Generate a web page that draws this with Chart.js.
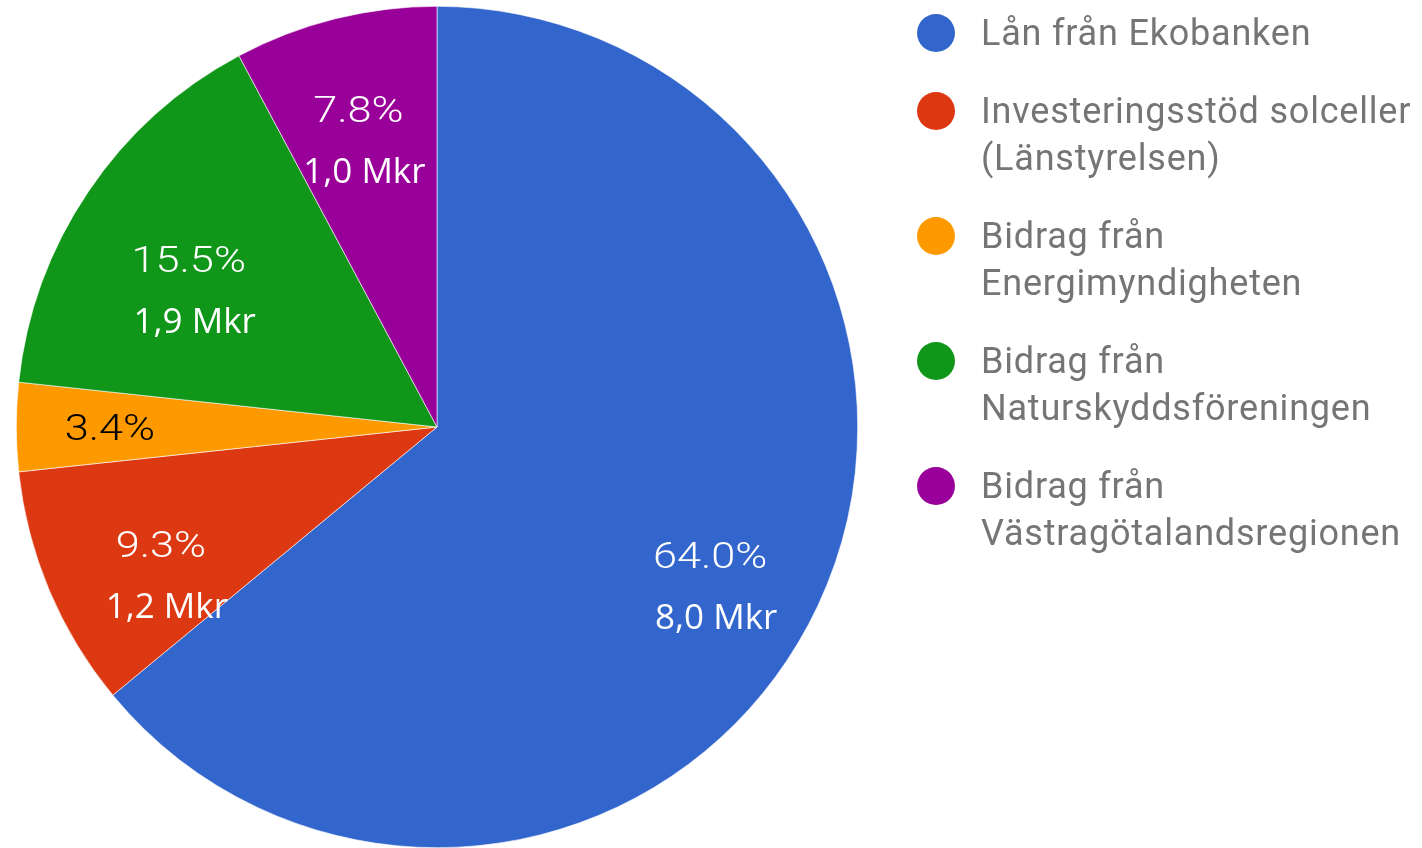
<!DOCTYPE html>
<html>
<head>
<meta charset="utf-8">
<style>
  html, body { margin: 0; padding: 0; background: #ffffff; }
  #wrap { width: 1422px; height: 848px; position: relative; }
  canvas { display: block; }
</style>
<script src="https://cdn.jsdelivr.net/npm/chart.js@4/dist/chart.umd.min.js"></script>
</head>
<body>
<div id="wrap"><canvas id="c" width="1422" height="848"></canvas></div>
<script>
// ---- data ----
const categories = [
  ["Lån från Ekobanken"],
  ["Investeringsstöd solceller", "(Länstyrelsen)"],
  ["Bidrag från", "Energimyndigheten"],
  ["Bidrag från", "Naturskyddsföreningen"],
  ["Bidrag från", "Västragötalandsregionen"]
];
const shares = [64.0, 9.3, 3.4, 15.5, 7.8];
const amountsMkr = [8.0, 1.2, null, 1.9, 1.0];
const colors = ["#3366cc", "#dc3912", "#ff9900", "#109618", "#990099"];
const labelTextColors = ["#ffffff", "#ffffff", "#000000", "#ffffff", "#ffffff"];

function drawStretched(ctx, text, cx, baseline, sx) {
  ctx.save();
  ctx.translate(cx, baseline);
  ctx.scale(sx, 1);
  ctx.textAlign = 'center';
  ctx.fillText(text, 0, 0);
  ctx.restore();
}

const sliceLabels = {
  id: 'sliceLabels',
  afterDatasetsDraw(chart) {
    const ctx = chart.ctx;
    const meta = chart.getDatasetMeta(0);
    const data = chart.data.datasets[0].data;
    const total = data.reduce((a, b) => a + b, 0);
    meta.data.forEach((arc, i) => {
      const p = arc.getProps(['x', 'y', 'startAngle', 'endAngle', 'outerRadius'], true);
      const mid = (p.startAngle + p.endAngle) / 2;
      const pct = data[i] / total * 100;
      const f = pct < 9 ? 0.78 : 0.715;
      const r = p.outerRadius * f;
      const x = p.x + Math.cos(mid) * r;
      const y = p.y + Math.sin(mid) * r;
      ctx.save();
      ctx.textBaseline = 'alphabetic';
      ctx.fillStyle = labelTextColors[i];
      ctx.font = '300 37px Roboto';
      drawStretched(ctx, pct.toFixed(1) + '%', x + 1, y + 13, 1.17);
      if (amountsMkr[i] !== null) {
        ctx.font = '400 35px "Open Sans"';
        drawStretched(ctx, amountsMkr[i].toFixed(1).replace('.', ',') + ' Mkr', x + 7, y + 74, 1);
      }
      ctx.restore();
    });
  }
};

const sideLegend = {
  id: 'sideLegend',
  afterDraw(chart) {
    const ctx = chart.ctx;
    const labels = chart.data.labels;
    const cols = chart.data.datasets[0].backgroundColor;
    let y = 33;
    const lineH = 47, gap = 78;
    labels.forEach((lines, i) => {
      ctx.save();
      ctx.beginPath();
      ctx.fillStyle = cols[i];
      ctx.arc(936, y, 19, 0, Math.PI * 2);
      ctx.fill();
      ctx.fillStyle = '#757575';
      ctx.font = '400 36px Roboto';
      ctx.letterSpacing = '0.8px';
      ctx.textAlign = 'left';
      ctx.textBaseline = 'alphabetic';
      lines.forEach((t, k) => ctx.fillText(t, 981, y + 12 + k * lineH));
      ctx.restore();
      y += (lines.length - 1) * lineH + gap;
    });
  }
};

new Chart(document.getElementById('c'), {
  type: 'pie',
  data: {
    labels: categories,
    datasets: [{
      data: shares,
      backgroundColor: colors,
      borderColor: '#ffffff',
      borderWidth: 0.6
    }]
  },
  options: {
    responsive: false,
    animation: false,
    devicePixelRatio: 1,
    layout: { padding: { left: 14, top: 6, right: 562, bottom: -2 } },
    plugins: {
      legend: { display: false },
      tooltip: { enabled: false }
    }
  },
  plugins: [sliceLabels, sideLegend]
});
</script>
</body>
</html>
